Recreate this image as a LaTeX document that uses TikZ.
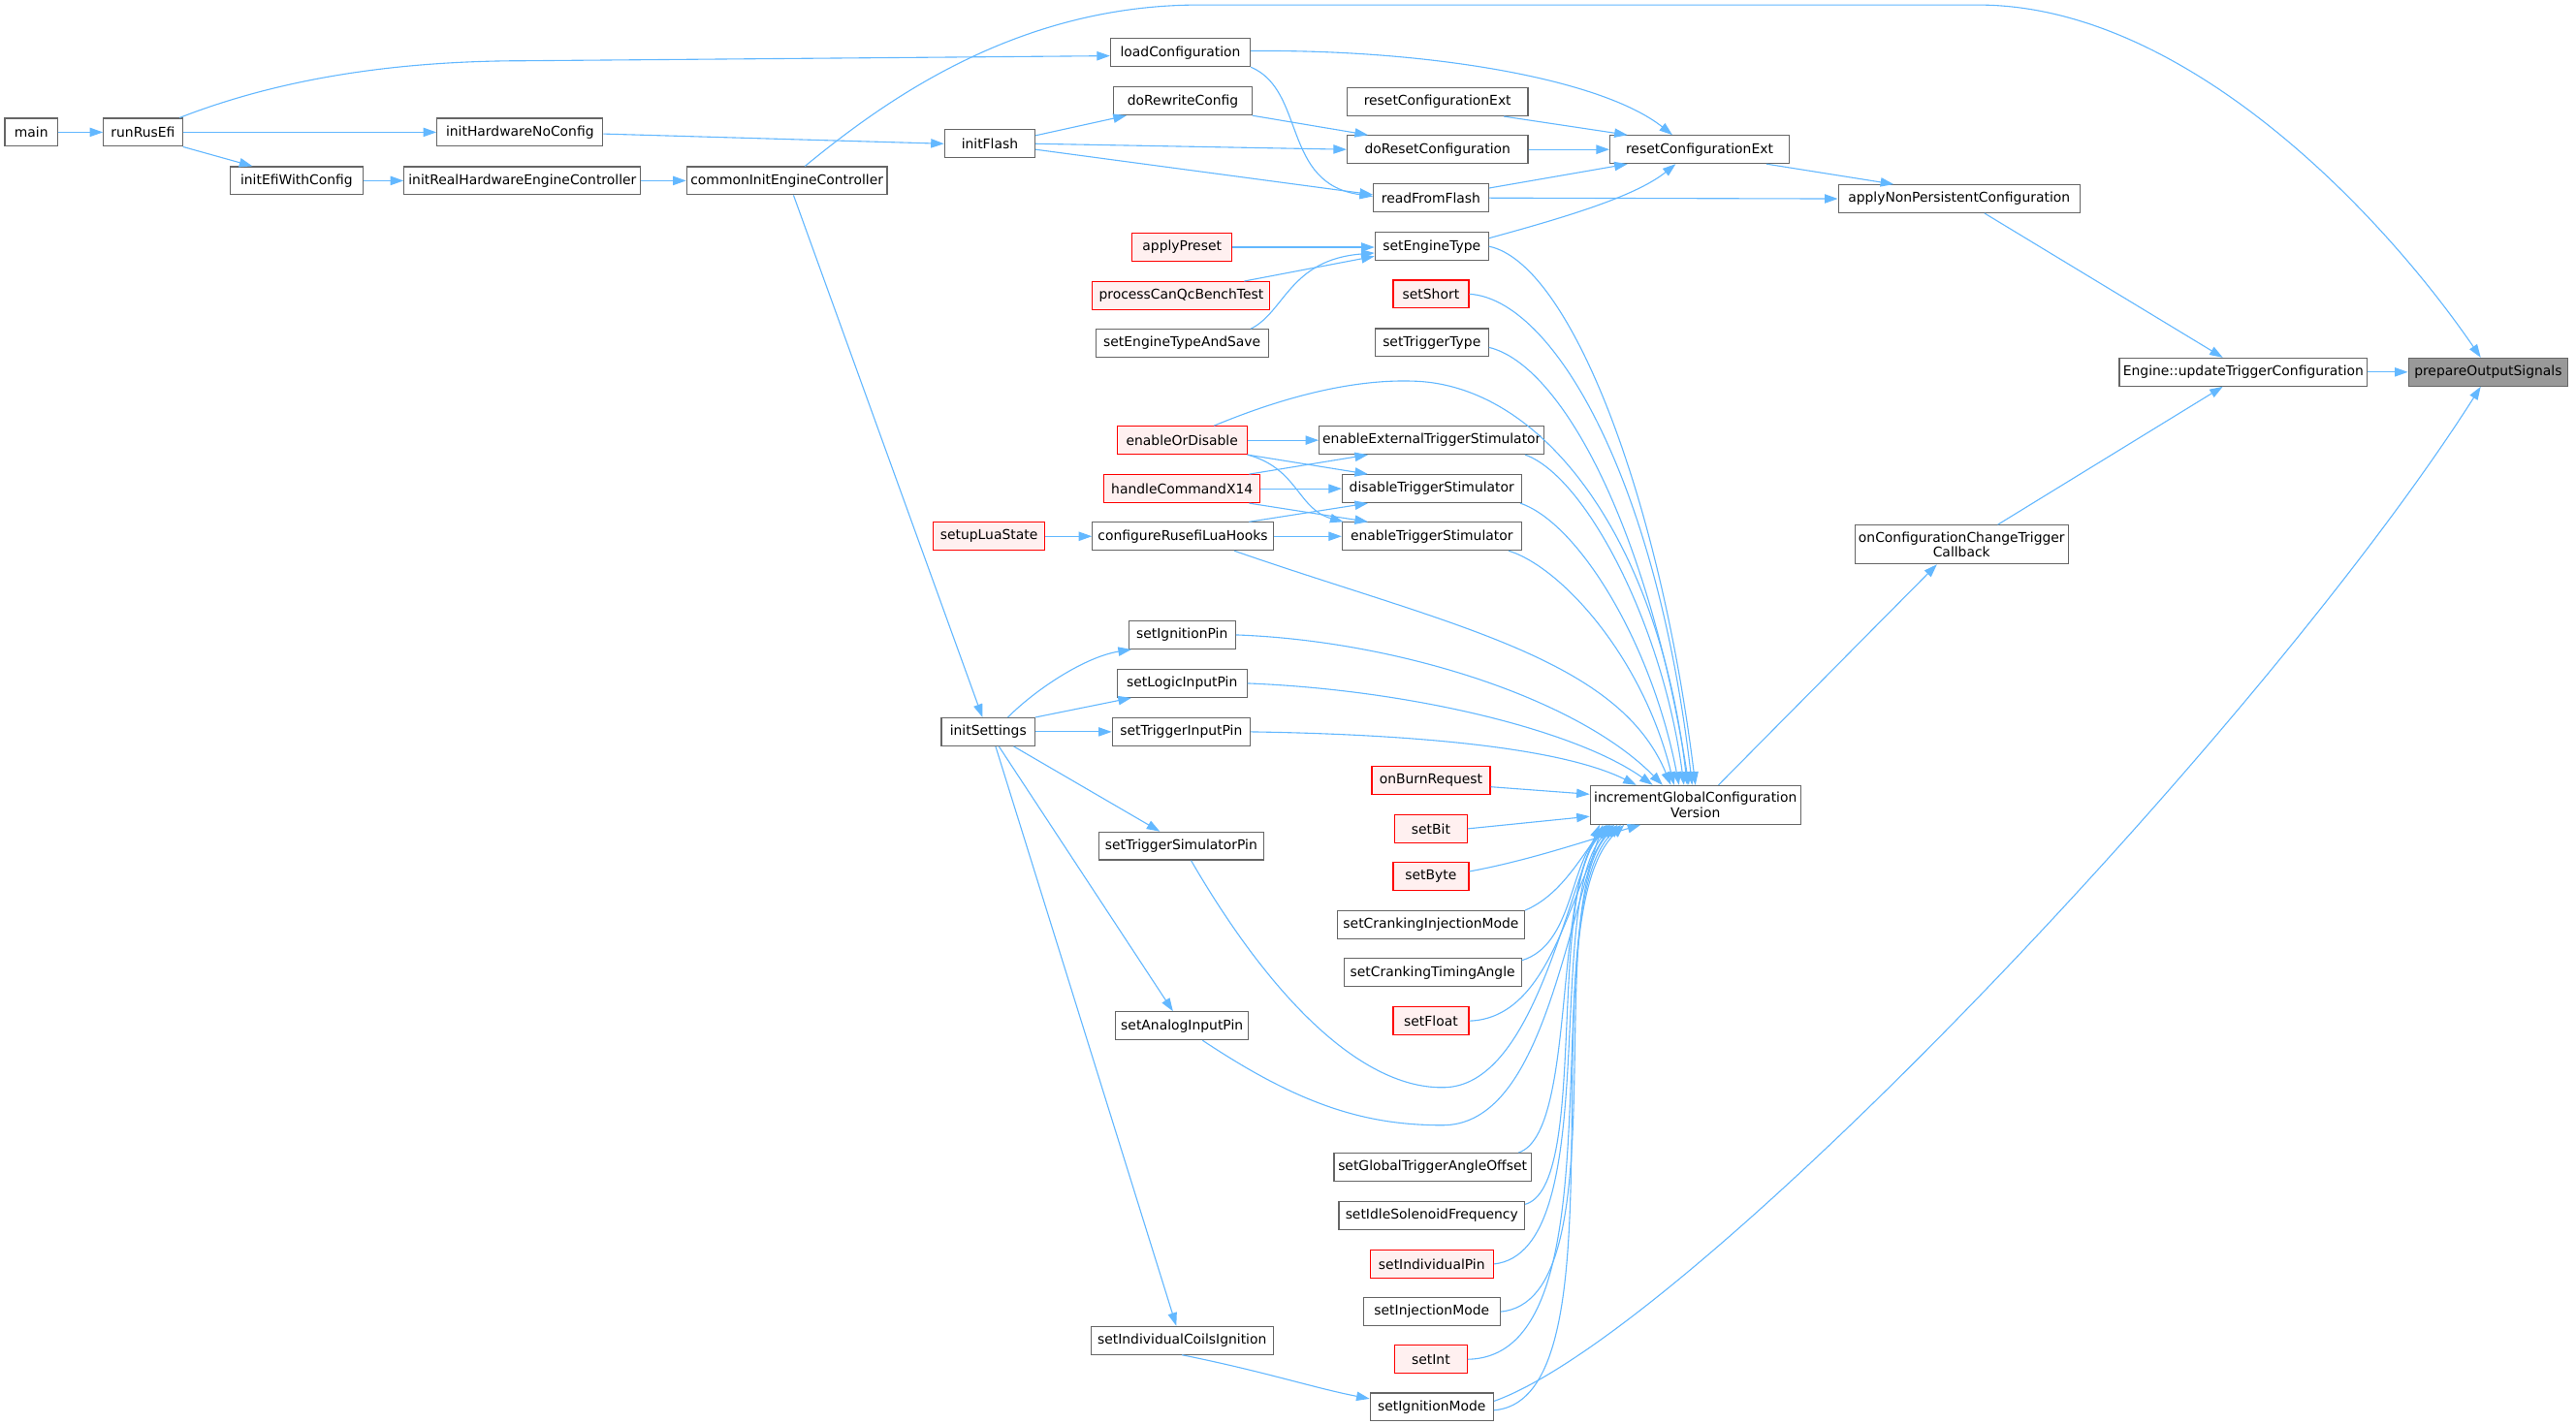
\documentclass[tikz,border=0pt]{standalone}
\usepackage{fontspec}
\setmainfont{DejaVu Sans}
\usetikzlibrary{arrows.meta}
\definecolor{eblue}{HTML}{63B8FF}
\definecolor{bgray}{HTML}{666666}
\definecolor{rfill}{HTML}{FFF0F0}
\definecolor{pgray}{HTML}{999999}
\begin{document}
\begin{tikzpicture}[x=1pt,y=-1pt,
  fn/.style={draw=bgray, fill=white, line width=0.7pt, minimum height=17pt, inner sep=0pt, font=\fontsize{8.2}{8.9}\selectfont, text=black},
  rd/.style={fn, draw=red, fill=rfill},
  cur/.style={fn, fill=pgray},
  two/.style={align=center, minimum height=23.5pt},
  e/.style={draw=eblue, line width=0.65pt, -{Triangle[length=8pt,width=5.5pt]}}
]
\fill[white] (0,0) rectangle (1568,867.5);
\useasboundingbox (0,0) rectangle (1568,867.5);

% ---------------- nodes ----------------
\node[fn, minimum width=32pt]  (main) at (19,80.5) {main};
\node[fn, minimum width=48pt]  (rre)  at (87,80.5) {runRusEfi};
\node[fn, minimum width=101pt] (ihw)  at (316.5,80.5) {initHardwareNoConfig};
\node[fn, minimum width=81pt]  (iewc) at (180.5,110) {initEfiWithConfig};
\node[fn, minimum width=144pt] (irh)  at (318,110) {initRealHardwareEngineController};
\node[fn, minimum width=122pt] (cie)  at (479,110) {commonInitEngineController};
\node[fn, minimum width=85pt]  (lc)   at (718.5,32) {loadConfiguration};
\node[fn, minimum width=84pt]  (drc)  at (720,61.5) {doRewriteConfig};
\node[fn, minimum width=55pt]  (ifl)  at (602.5,87.5) {initFlash};
\node[fn, minimum width=110pt] (rcu)  at (875,62) {resetConfigurationExt};
\node[fn, minimum width=110pt] (drs)  at (875,91) {doResetConfiguration};
\node[fn, minimum width=109pt] (rcm)  at (1034.5,91) {resetConfigurationExt};
\node[fn, minimum width=70pt]  (rff)  at (871,120.5) {readFromFlash};
\node[fn, minimum width=147pt] (anp)  at (1192.5,121) {applyNonPersistentConfiguration};
\node[fn, minimum width=69pt]  (set)  at (871.5,150) {setEngineType};
\node[rd, minimum width=61pt]  (ap)   at (719.5,150.5) {applyPreset};
\node[rd, minimum width=108pt] (pcq)  at (719,180) {processCanQcBenchTest};
\node[fn, minimum width=105pt] (sets) at (719.5,209) {setEngineTypeAndSave};
\node[rd, minimum width=46pt]  (ssh)  at (871,179) {setShort};
\node[fn, minimum width=69pt]  (stt)  at (871.5,208.5) {setTriggerType};
\node[fn, minimum width=151pt] (eu)   at (1365.5,226.5) {Engine::updateTriggerConfiguration};
\node[cur, minimum width=97pt] (pos)  at (1514.5,226.5) {prepareOutputSignals};
\node[rd, minimum width=79pt]  (eod)  at (719.5,268) {enableOrDisable};
\node[fn, minimum width=137pt] (eets) at (871.5,268) {enableExternalTriggerStimulator};
\node[rd, minimum width=95pt]  (hcx)  at (719.5,297.5) {handleCommandX14};
\node[fn, minimum width=109pt] (dts)  at (871.5,297.5) {disableTriggerStimulator};
\node[rd, minimum width=68pt]  (sls)  at (602,326.5) {setupLuaState};
\node[fn, minimum width=110pt] (crl)  at (720,326.5) {configureRusefiLuaHooks};
\node[fn, minimum width=109pt] (ets)  at (871.5,326.5) {enableTriggerStimulator};
\node[fn, two, minimum width=130pt] (occ) at (1194,331.5) {onConfigurationChangeTrigger\\Callback};
\node[fn, minimum width=65pt]  (sip)  at (719.5,386.5) {setIgnitionPin};
\node[fn, minimum width=79pt]  (slp)  at (719.5,416) {setLogicInputPin};
\node[fn, minimum width=84pt]  (stip) at (719,445.5) {setTriggerInputPin};
\node[fn, minimum width=57pt]  (ins)  at (601.5,445.5) {initSettings};
\node[rd, minimum width=72pt]  (obr)  at (871,475) {onBurnRequest};
\node[fn, two, minimum width=128pt] (igc) at (1032,490) {incrementGlobalConfiguration\\Version};
\node[rd, minimum width=44pt]  (sbit) at (871,504.5) {setBit};
\node[fn, minimum width=100pt] (stsp) at (719,515) {setTriggerSimulatorPin};
\node[rd, minimum width=46pt]  (sbyte) at (871,533.5) {setByte};
\node[fn, minimum width=114pt] (scim) at (871,563) {setCrankingInjectionMode};
\node[fn, minimum width=108pt] (scta) at (872,592) {setCrankingTimingAngle};
\node[rd, minimum width=46pt]  (sfl)  at (871,621.5) {setFloat};
\node[fn, minimum width=81pt]  (saip) at (719.5,624.5) {setAnalogInputPin};
\node[fn, minimum width=120pt] (sgta) at (872,710.5) {setGlobalTriggerAngleOffset};
\node[fn, minimum width=113pt] (sisf) at (871.5,740) {setIdleSolenoidFrequency};
\node[rd, minimum width=75pt]  (sipin) at (871.5,769.5) {setIndividualPin};
\node[fn, minimum width=83pt]  (sinj) at (871.5,798.5) {setInjectionMode};
\node[rd, minimum width=44pt]  (sint) at (871,827.5) {setInt};
\node[fn, minimum width=111pt] (sici) at (719.5,816) {setIndividualCoilsIgnition};
\node[fn, minimum width=75pt]  (sigm) at (871.5,856.5) {setIgnitionMode};

% ---------------- edges ----------------
\draw[e] (main.east) -- (rre.west);
\draw[e] (rre.east) -- (ihw.west);
\draw[e] (rre.south east) -- ([xshift=14pt]iewc.north west);
\draw[e] ([xshift=-2pt]rre.north east) .. controls (170,48) and (240,37) .. (320,37) -- ([yshift=-2pt]lc.west);
\draw[e] ([yshift=-1pt]ihw.east) -- (ifl.west);
\draw[e] (iewc.east) -- (irh.west);
\draw[e] (irh.east) -- (cie.west);
\draw[e] ([xshift=11pt]cie.north) .. controls (540,60) and (620,3) .. (730,3) -- (1204,3) .. controls (1330,3) and (1450,130) .. ([xshift=-4.5pt]pos.north);
\draw[e] ([xshift=4pt]cie.south) -- ([xshift=-3.5pt]ins.north);
% initFlash
\draw[e] ([yshift=5pt]ifl.east) -- ([xshift=8pt]drc.south west);
\draw[e] (ifl.east) -- (drs.west);
\draw[e] ([yshift=-3.5pt]ifl.east) -- ([yshift=2pt]rff.west);
% loadConfiguration
\draw[e] ([yshift=1pt]lc.east) .. controls (870,30) and (975,48) .. ([xshift=-16.5pt]rcm.north);
\draw[e] (lc.south east) .. controls (795,55) and (780,112) .. ([yshift=1pt]rff.west);
\draw[e] (drc.south east) -- ([xshift=13pt]drs.north west);
\draw[e] ([xshift=-15pt]rcu.south east) -- ([xshift=11pt]rcm.north west);
\draw[e] (drs.east) -- (rcm.west);
\draw[e] ([yshift=6pt]rff.east) -- ([xshift=11pt]rcm.south west);
\draw[e] (rff.east) -- (anp.west);
\draw[e] ([yshift=5pt]set.east) .. controls (950,133) and (995,120) .. ([xshift=-14.5pt]rcm.south);
\draw[e] ([xshift=-14pt]rcm.south east) -- ([xshift=34pt]anp.north west);
\draw[e] (ap.east) -- ([yshift=-0.5pt]set.west);
\draw[e] ([xshift=-16pt]pcq.north east) -- ([yshift=-6pt]set.west);
\draw[e] ([xshift=-11pt]sets.north east) .. controls (782,190) and (785,158) .. ([yshift=-4pt]set.west);
\draw[e] ([xshift=15.5pt]anp.south) -- ([xshift=-12.5pt]eu.north);
\draw[e] (eu.east) -- (pos.west);
\draw[e] ([xshift=22pt]occ.north) -- ([xshift=-12.5pt]eu.south);
\draw[e] ([xshift=14pt]igc.north) -- ([xshift=-15pt]occ.south);
\draw[e] ([yshift=3.5pt]sigm.east) .. controls (1030,810) and (1380,440) .. ([xshift=-4.5pt]pos.south);
% into incrementGlobalConfigurationVersion from above
\draw[e] (set.east) .. controls (955,160) and (1010,300) .. (igc.north);
\draw[e] (ssh.east) .. controls (945,182) and (1008,290) .. ([xshift=-2pt]igc.north);
\draw[e] ([yshift=-3pt]stt.east) .. controls (950,222) and (1003,320) .. ([xshift=-4pt]igc.north);
\draw[e] ([xshift=19.5pt]eod.north) .. controls (790,238) and (830,231) .. (860,232) .. controls (940,234) and (1010,330) .. ([xshift=-5pt]igc.north);
\draw[e] ([xshift=-12pt]eets.south east) .. controls (965,290) and (1012,380) .. ([xshift=-7pt]igc.north);
\draw[e] ([xshift=-1pt]dts.south east) .. controls (960,318) and (1005,390) .. ([xshift=-10pt]igc.north);
\draw[e] ([xshift=-8pt]ets.south east) .. controls (950,345) and (1000,400) .. ([xshift=-13pt]igc.north);
\draw[e] ([xshift=-24pt]crl.south east) .. controls (880,380) and (985,400) .. ([xshift=-15pt]igc.north);
\draw[e] (sip.east) .. controls (850,390) and (960,425) .. ([xshift=-20pt]igc.north);
\draw[e] (slp.east) .. controls (860,420) and (960,445) .. ([xshift=-26pt]igc.north);
\draw[e] (stip.east) .. controls (860,447) and (950,455) .. ([xshift=-36pt]igc.north);
% enableOrDisable / handleCommandX14 / configureRusefiLuaHooks
\draw[e] (eod.east) -- (eets.west);
\draw[e] (eod.south east) -- ([xshift=16pt]dts.north west);
\draw[e] (eod.south east) .. controls (790,285) and (790,310) .. ([xshift=1pt]ets.north west);
\draw[e] ([xshift=-7pt]hcx.north east) -- ([xshift=30pt]eets.south west);
\draw[e] (hcx.east) -- (dts.west);
\draw[e] ([xshift=-7pt]hcx.south east) -- ([xshift=16pt]ets.north west);
\draw[e] ([xshift=-15pt]crl.north east) -- ([xshift=16pt]dts.south west);
\draw[e] (crl.east) -- (ets.west);
\draw[e] (sls.east) -- (crl.west);
% initSettings
\draw[e] ([xshift=12pt]ins.north) .. controls (630,420) and (660,400) .. ([xshift=2pt]sip.south west);
\draw[e] (ins.north east) -- ([xshift=9pt]slp.south west);
\draw[e] (ins.east) -- (stip.west);
\draw[e] ([xshift=15.5pt]ins.south) -- ([xshift=-13pt]stsp.north);
\draw[e] ([xshift=6.5pt]ins.south) -- ([xshift=-5.5pt]saip.north);
\draw[e] ([xshift=4.5pt]ins.south) -- ([xshift=-3.5pt]sici.north);
\draw[e] (sici.south) .. controls (770,835) and (800,845) .. ([yshift=5pt]sigm.west);
% into incrementGlobalConfigurationVersion from the left and below
\draw[e] ([yshift=-4pt]obr.east) -- ([yshift=6.5pt]igc.west);
\draw[e] (sbit.east) -- ([yshift=-7pt]igc.west);
\draw[e] ([yshift=3pt]sbyte.east) .. controls (930,524) and (965,512) .. ([xshift=31pt]igc.south west);
\draw[e] (scim.north east) .. controls (950,545) and (962,522) .. ([xshift=10pt]igc.south west);
\draw[e] ([yshift=-1.5pt]scta.north east) .. controls (958,575) and (955,525) .. ([xshift=12pt]igc.south west);
\draw[e] (sfl.east) .. controls (945,620) and (955,540) .. ([xshift=14pt]igc.south west);
\draw[e] ([xshift=6pt]stsp.south) .. controls (775,610) and (830,663) .. (879,662) .. controls (930,661) and (950,560) .. ([xshift=6pt]igc.south west);
\draw[e] ([xshift=12.5pt]saip.south) .. controls (790,672) and (830,685) .. (878,685) .. controls (935,685) and (950,580) .. ([xshift=8pt]igc.south west);
\draw[e] ([xshift=-8pt]sgta.north east) .. controls (960,690) and (945,540) .. ([xshift=11pt]igc.south west);
\draw[e] ([yshift=-2pt]sisf.north east) .. controls (968,722) and (940,540) .. ([xshift=13pt]igc.south west);
\draw[e] (sipin.east) .. controls (978,762) and (938,545) .. ([xshift=15pt]igc.south west);
\draw[e] (sinj.east) .. controls (988,792) and (936,550) .. ([xshift=17pt]igc.south west);
\draw[e] (sint.east) .. controls (990,826) and (932,555) .. ([xshift=19pt]igc.south west);
\draw[e] ([yshift=-2pt]sigm.east) .. controls (992,852) and (928,560) .. ([xshift=21pt]igc.south west);
\end{tikzpicture}
\end{document}
